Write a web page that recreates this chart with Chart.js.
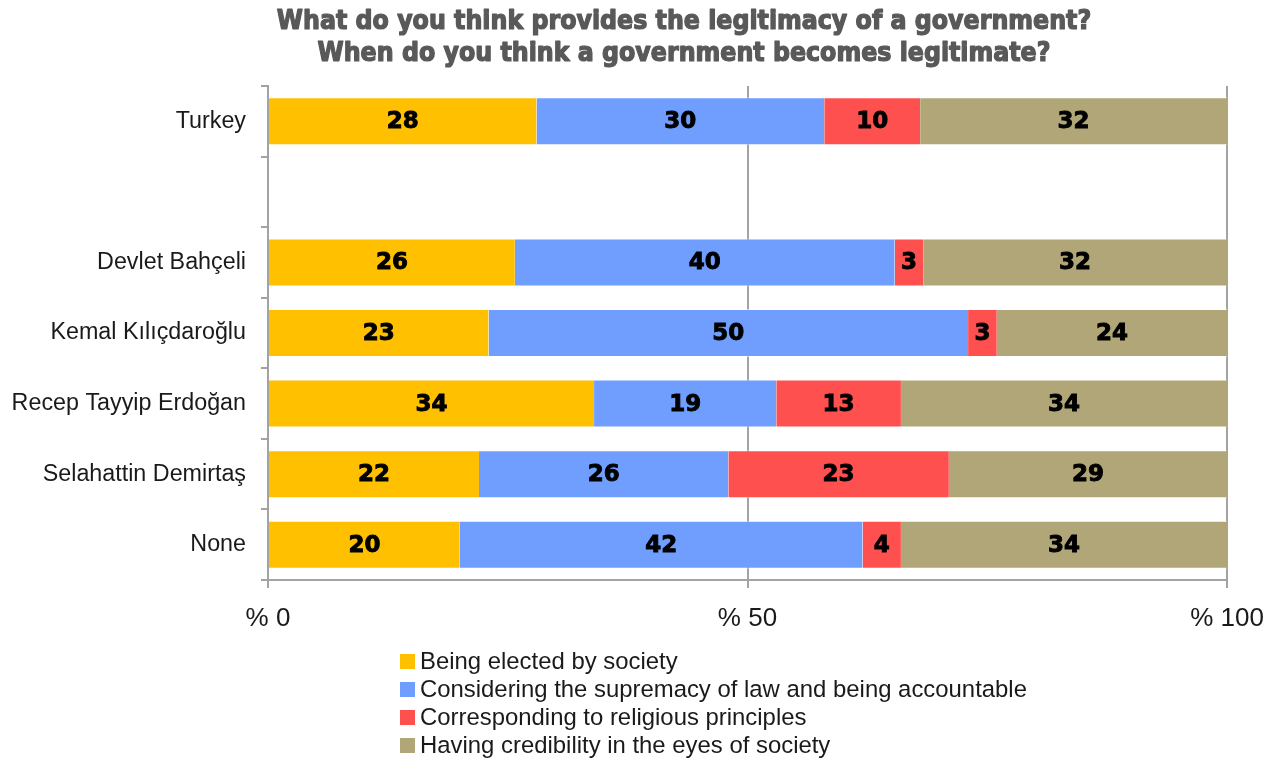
<!DOCTYPE html>
<html>
<head>
<meta charset="utf-8">
<title>Legitimacy of a government</title>
<script src="https://cdn.jsdelivr.net/npm/chart.js@4.4.1/dist/chart.umd.min.js"></script>
<style>
    body { margin: 0; background: #fff; }
    #wrap { position: relative; width: 1284px; height: 761px; }
    #legend {
        position: absolute; left: 400px; top: 647px;
        font: 23.9px 'Liberation Sans', Arial, sans-serif; color: #1a1a1a;
    }
    #legend .item { height: 28px; display: flex; align-items: center; white-space: nowrap; }
    #legend .box { width: 15px; height: 15px; margin-right: 5px; flex: none; }
</style>
</head>
<body>
<div id="wrap">
    <canvas id="legitimacyChart" width="1284" height="761"></canvas>
    <div id="legend"></div>
</div>
<script>
// Survey answers per group, in percent (second row is a spacer)
const categories = ['Turkey', '', 'Devlet Bahçeli', 'Kemal Kılıçdaroğlu', 'Recep Tayyip Erdoğan', 'Selahattin Demirtaş', 'None'];
const elected = [28, null, 26, 23, 34, 22, 20];
const lawAccountable = [30, null, 40, 50, 19, 26, 42];
const religious = [10, null, 3, 3, 13, 23, 4];
const credibility = [32, null, 32, 24, 34, 29, 34];

const seriesNames = [
    'Being elected by society',
    'Considering the supremacy of law and being accountable',
    'Corresponding to religious principles',
    'Having credibility in the eyes of society'
];
const seriesColors = ['#FFC000', '#6F9EFF', '#FF5050', '#B1A677'];
const xTicks = [0, 50, 100];
const titleLines = [
    'What do you think provides the legitimacy of a government?',
    'When do you think a government becomes legitimate?'
];

const allSeries = [elected, lawAccountable, religious, credibility];

// each row is stretched to 100% (some rows add up to 101 because of rounding)
const rowTotals = categories.map((c, i) => allSeries.reduce((sum, arr) => sum + (arr[i] || 0), 0));
function toShare(values) {
    return values.map((v, i) => v == null ? null : v / rowTotals[i] * 100);
}

const axisGray = '#a3a3a3';

const titlePlugin = {
    id: 'twoLineTitle',
    afterDraw(chart) {
        const ctx = chart.ctx;
        ctx.save();
        ctx.font = "bold 26.4px 'DejaVu Sans Condensed', 'Liberation Sans Narrow', 'DejaVu Sans', sans-serif";
        ctx.fillStyle = '#595959';
        ctx.strokeStyle = '#595959';
        ctx.lineWidth = 1.2;
        ctx.lineJoin = 'round';
        ctx.textAlign = 'center';
        ctx.textBaseline = 'middle';
        titleLines.forEach((line, i) => {
            ctx.fillText(line, 684, 22 + i * 32);
            ctx.strokeText(line, 684, 22 + i * 32);
        });
        ctx.restore();
    }
};

const valueLabels = {
    id: 'valueLabels',
    afterDatasetsDraw(chart) {
        const ctx = chart.ctx;
        ctx.save();
        ctx.font = "bold 23px 'DejaVu Sans', sans-serif";
        ctx.fillStyle = '#000';
        ctx.strokeStyle = '#000';
        ctx.lineWidth = 0.9;
        ctx.textAlign = 'center';
        ctx.textBaseline = 'middle';
        chart.data.datasets.forEach((ds, i) => {
            chart.getDatasetMeta(i).data.forEach((bar, j) => {
                const v = ds.counts[j];
                if (v == null) return;
                const { x, base, y } = bar.getProps(['x', 'base', 'y'], true);
                ctx.fillText(String(v), (x + base) / 2, y + 1);
                ctx.strokeText(String(v), (x + base) / 2, y + 1);
            });
        });
        ctx.restore();
    }
};

const ctx = document.getElementById('legitimacyChart').getContext('2d');
const chart = new Chart(ctx, {
    type: 'bar',
    data: {
        labels: categories,
        datasets: allSeries.map((values, i) => ({
            label: seriesNames[i],
            data: toShare(values),
            counts: values,
            backgroundColor: seriesColors[i],
            borderColor: 'rgba(255, 255, 255, 0.55)',
            borderWidth: { top: 1, bottom: 1, left: 0, right: 0 },
            borderSkipped: false,
            barPercentage: 0.68,
            categoryPercentage: 1
        }))
    },
    options: {
        indexAxis: 'y',
        responsive: false,
        animation: false,
        layout: { padding: { top: 86, right: 57, bottom: 121, left: 0 } },
        plugins: {
            legend: { display: false },
            title: { display: false },
            tooltip: { enabled: false }
        },
        scales: {
            x: {
                stacked: true,
                min: 0,
                max: 100,
                afterBuildTicks: scale => { scale.ticks = xTicks.map(v => ({ value: v })); },
                afterFit: scale => { scale.height = 60; },
                grid: { color: axisGray, lineWidth: 2, tickLength: 8 },
                border: { display: true, color: axisGray, width: 2 },
                ticks: {
                    padding: 15,
                    color: '#1a1a1a',
                    maxRotation: 0,
                    font: { family: "'Liberation Sans', Arial, sans-serif", size: 26 },
                    callback: v => '% ' + v
                }
            },
            y: {
                stacked: true,
                afterFit: scale => { scale.width = 268; },
                grid: { offset: true, drawOnChartArea: false, color: axisGray, lineWidth: 2, tickLength: 7 },
                border: { display: true, color: axisGray, width: 2 },
                ticks: {
                    padding: 15,
                    color: '#1a1a1a',
                    font: { family: "'Liberation Sans', Arial, sans-serif", size: 23.3 }
                }
            }
        }
    },
    plugins: [titlePlugin, valueLabels]
});

// legend as a vertical list under the chart
const legendEl = document.getElementById('legend');
seriesNames.forEach((name, i) => {
    const item = document.createElement('div');
    item.className = 'item';
    item.innerHTML = `<span class="box" style="background:${seriesColors[i]}"></span><span>${name}</span>`;
    legendEl.appendChild(item);
});
</script>
</body>
</html>
